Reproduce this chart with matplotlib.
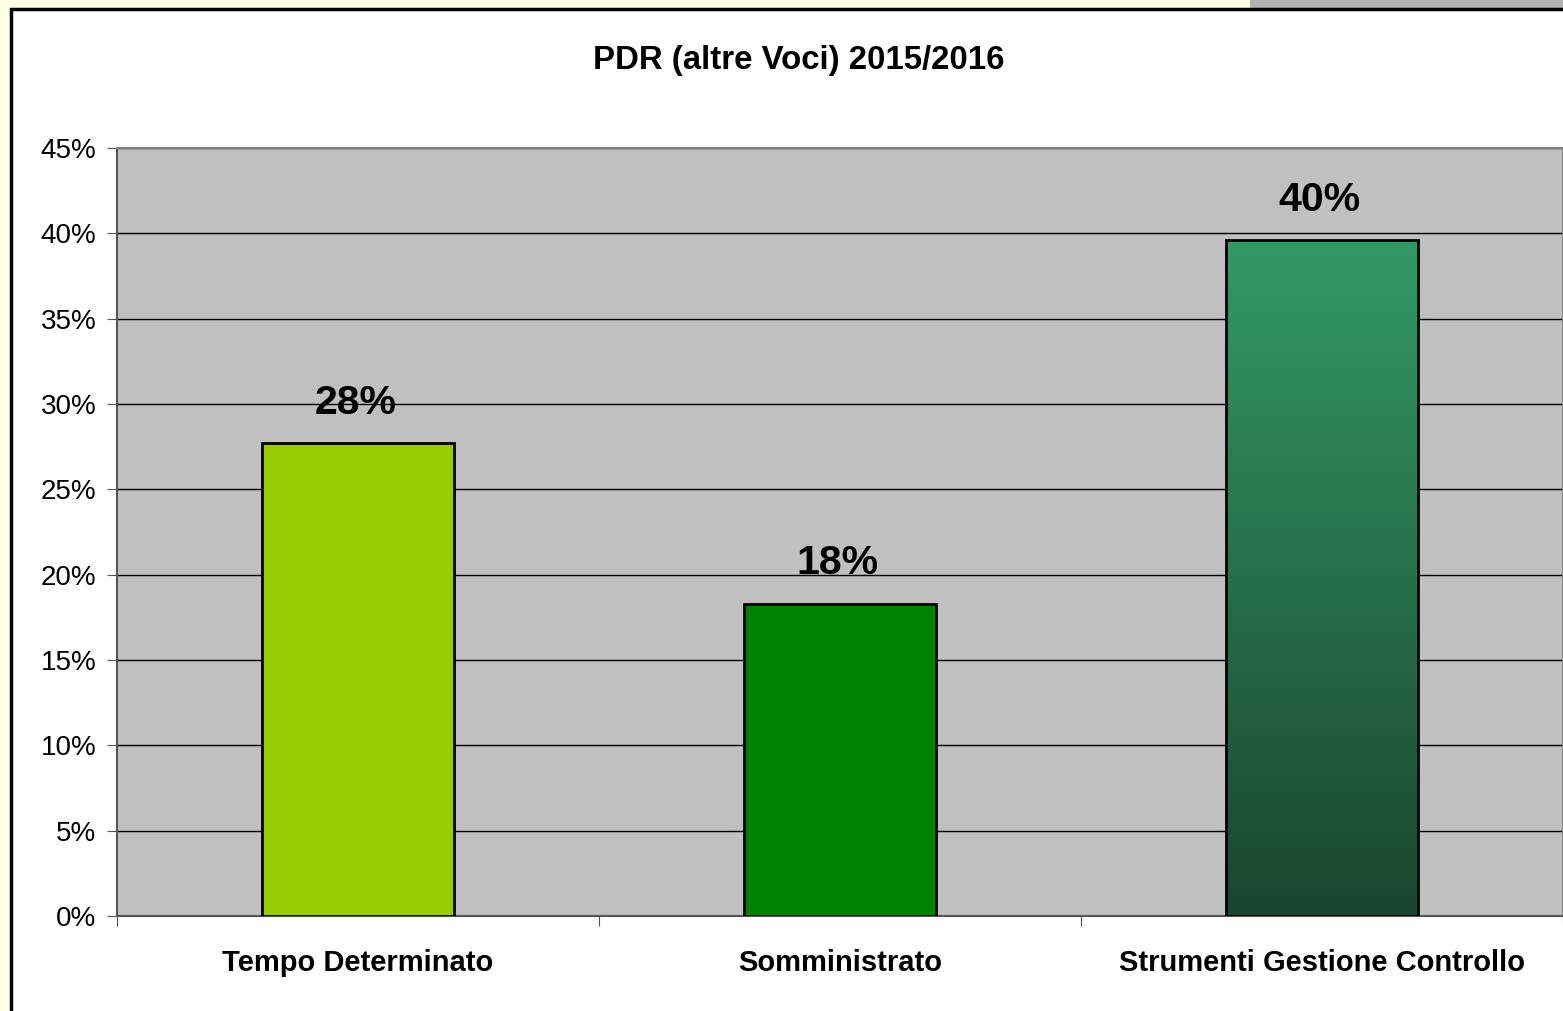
import matplotlib
matplotlib.use("Agg")
import matplotlib.pyplot as plt
import numpy as np
from matplotlib.colors import LinearSegmentedColormap
from matplotlib.patches import Rectangle
from matplotlib.ticker import FuncFormatter, MultipleLocator

categories = ["Tempo Determinato", "Somministrato", "Strumenti Gestione Controllo"]
values = [0.277, 0.183, 0.396]
labels = ["28%", "18%", "40%"]
title = "PDR (altre Voci) 2015/2016"

W, H = 1563, 1011
plt.rcParams["font.family"] = ["Liberation Sans", "DejaVu Sans"]

fig = plt.figure(figsize=(W / 100, H / 100), dpi=100)
fig.patch.set_facecolor("#FFFFE3")

# grey strip top right and the chart frame
fig.add_artist(Rectangle((1250 / W, 1 - 8 / H), 1, 8 / H, transform=fig.transFigure,
                         facecolor="#B2B2B2", edgecolor="none", zorder=0))
fig.add_artist(Rectangle((11 / W, -0.05), 1.2, 1 - 9 / H + 0.05, transform=fig.transFigure,
                         facecolor="white", edgecolor="black", linewidth=2.5, zorder=0))

ax = fig.add_axes([117 / W, 95 / H, (W - 117) / W, 768 / H])
ax.set_facecolor("#C0C0C0")
x = np.arange(len(categories))
bars = ax.bar(x, values, width=0.4, color=["#99CC00", "#008000", "none"],
              edgecolor="black", linewidth=2, zorder=3)

# vertical gradient on the third bar
b = bars[2]
grad = np.linspace(0, 1, 256).reshape(-1, 1)
cmap = LinearSegmentedColormap.from_list("g", ["#1A4530", "#339966"])
bx, bw, bh = b.get_x(), b.get_width(), b.get_height()
im = ax.imshow(grad, cmap=cmap, origin="lower", aspect="auto",
               extent=[bx, bx + bw, 0, bh], zorder=2)
im.set_clip_path(b)

for xi, v, lab in zip(x, values, labels):
    ax.text(xi - 0.005, v + 0.0125, lab, ha="center", va="bottom", fontsize=29.5,
            fontweight="bold", zorder=4)

ax.set_xlim(-0.5, len(categories) - 0.5)
ax.set_ylim(0, 0.45)
ax.yaxis.set_major_locator(MultipleLocator(0.05))
ax.yaxis.set_major_formatter(FuncFormatter(lambda v, p: f"{v * 100:.0f}%"))
ax.grid(axis="y", color="black", linewidth=1, zorder=1)
ax.set_axisbelow(True)

ax.set_xticks(np.arange(-0.5, len(categories), 1.0))
ax.set_xticklabels([])
ax.set_xticks(x, minor=True)
ax.set_xticklabels(categories, minor=True, fontsize=21, fontweight="bold")
ax.tick_params(axis="x", which="minor", length=0, pad=24)
ax.tick_params(axis="x", which="major", length=7, color="#555555")
ax.tick_params(axis="y", length=7, color="#555555", labelsize=20, pad=8)

for s in ["top", "right"]:
    ax.spines[s].set_color("#808080")
for s in ["left", "bottom"]:
    ax.spines[s].set_color("#555555")
for s in ax.spines.values():
    s.set_linewidth(1.5)

fig.text(799 / W, 1 - 61 / H, title, ha="center", va="center", fontsize=23.8,
         fontweight="bold")

fig.savefig("out.png", dpi=100, facecolor=fig.get_facecolor())
